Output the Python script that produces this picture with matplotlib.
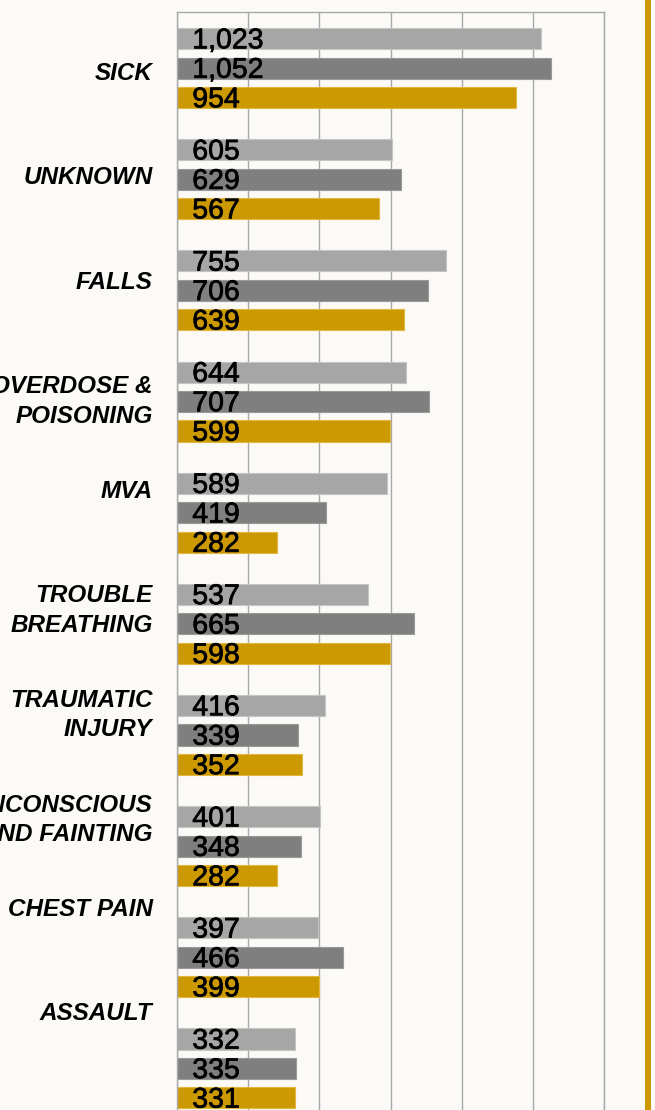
import matplotlib
matplotlib.use('Agg')
import numpy as np
import matplotlib.pyplot as plt
import matplotlib.patheffects as pe
from matplotlib.patches import Rectangle

# chart data
categories = ['SICK', 'UNKNOWN', 'FALLS', 'OVERDOSE &\nPOISONING', 'MVA',
              'TROUBLE\nBREATHING', 'TRAUMATIC\nINJURY',
              'UNCONSCIOUS\nAND FAINTING', 'CHEST PAIN', 'ASSAULT']
series_1 = [1023, 605, 755, 644, 589, 537, 416, 401, 397, 332]
series_2 = [1052, 629, 706, 707, 419, 665, 339, 348, 466, 335]
series_3 = [954, 567, 639, 599, 282, 598, 352, 282, 399, 331]
x_ticks = [0, 200, 400, 600, 800, 1000, 1200]

colors = ['#A6A6A6', '#7F7F7F', '#CC9900']
edges = ['#C4C4C4', '#9A9A9A', '#E0B840']
bg = '#FCFAF7'
grid_col = '#A8A8A8'

W, H = 655, 1110
fig = plt.figure(figsize=(W / 100, H / 100), dpi=100, facecolor=bg)

# axes runs past the bottom edge of the picture, like the cropped original
top_px, bot_px = 12.5, 1124
ax = fig.add_axes([177 / W, (H - bot_px) / H, (604 - 177) / W, (bot_px - top_px) / H])
ax.set_facecolor(bg)

y = np.arange(len(categories))
offsets = [-0.265, 0.0, 0.265]
for vals, off, c, ec in zip([series_1, series_2, series_3], offsets, colors, edges):
    ax.barh(y + off, vals, height=0.19, color=c, edgecolor=ec, linewidth=0.8, zorder=2)
    for yy, v in zip(y + off, vals):
        ax.annotate(f'{v:,}', xy=(0, yy), xytext=(11, -7.0), textcoords='offset points',
                    ha='left', va='baseline', fontsize=20.5, family='Liberation Sans',
                    color='black', zorder=3,
                    path_effects=[pe.withStroke(linewidth=0.5, foreground='black')])

ax.set_xlim(0, 1200)
ax.set_xticks(x_ticks)
ax.set_ylim(len(categories) - 0.5, -0.5)
ax.grid(axis='x', color=grid_col, linewidth=1.0, zorder=0)
ax.set_axisbelow(True)
for s in ax.spines.values():
    s.set_color(grid_col)
    s.set_linewidth(1.0)

# category labels sit on their own, slightly tighter spacing
step_px = 104.5
first_px = 62.0
ax2 = ax.twinx()
ax2.set_ylim((bot_px - first_px) / step_px, (top_px - first_px) / step_px)
ax2.set_yticks(range(len(categories)))
ax2.yaxis.set_ticks_position('left')
ax2.yaxis.set_label_position('left')
ax2.set_yticklabels(categories, fontsize=17.5, fontweight='bold', fontstyle='italic',
                    family='Liberation Sans')
ax2.tick_params(axis='y', length=0, pad=17.6)
for t in ax2.get_yticklabels():
    t.set_verticalalignment('top')
    t.set_linespacing(1.36)
for s in ax2.spines.values():
    s.set_visible(False)

# twinx turns the left ticks of ax back on
ax.tick_params(bottom=False, labelbottom=False, left=False, labelleft=False,
               right=False, labelright=False)

# gold stripe on the right edge
fig.add_artist(Rectangle((645 / W, 0), 6 / W, 1, transform=fig.transFigure,
                         color='#CC9900', linewidth=0))

fig.savefig('out.png', dpi=100, facecolor=bg)
